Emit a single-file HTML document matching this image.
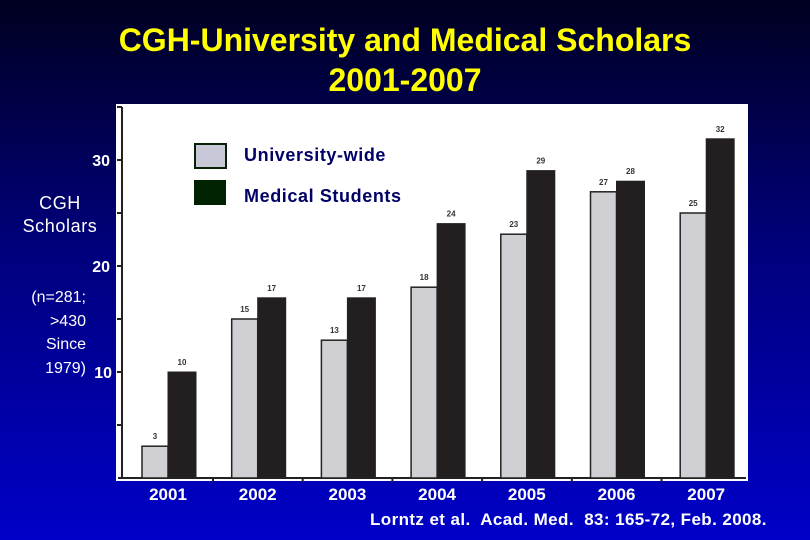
<!DOCTYPE html>
<html><head><meta charset="utf-8"><style>
html,body{margin:0;padding:0;width:810px;height:540px;overflow:hidden}
body{background:linear-gradient(#000020 0%,#00007a 45%,#0000c8 100%);font-family:"Liberation Sans",sans-serif;position:relative}
.t{position:absolute;font-weight:bold}
</style></head><body>
<div class="t" style="left:0;width:810px;top:20px;text-align:center;color:#ffff00;font-size:32px;line-height:40px">CGH-University and Medical Scholars<br>2001-2007</div>
<div class="t" style="left:8px;top:192px;width:104px;text-align:center;color:#fff;font-size:18px;letter-spacing:0.6px;font-weight:normal;line-height:23px">CGH<br>Scholars</div>
<div class="t" style="left:20px;top:286px;width:66px;text-align:right;color:#fff;font-size:16px;font-weight:normal;line-height:23.5px">(n=281;<br>&gt;430<br>Since<br>1979)</div>
<div class="t" style="left:370px;top:510px;color:#fff;font-size:17px;letter-spacing:0.4px;white-space:nowrap">Lorntz et al.&nbsp; Acad. Med.&nbsp; 83: 165-72, Feb. 2008.</div>
<svg id="c" width="810" height="540" style="position:absolute;left:0;top:0"></svg>
<script>
const years=["2001","2002","2003","2004","2005","2006","2007"];
const university=[3,15,13,18,23,27,25];
const medical=[10,17,17,24,29,28,32];
const yTicks=[10,20,30];
const NS="http://www.w3.org/2000/svg";
const svg=document.getElementById('c');
function y(v){return 478-v*10.6;}
function x(i){return 168+i*89.7;}
function el(t,a,txt){const e=document.createElementNS(NS,t);for(const k in a)e.setAttribute(k,a[k]);if(txt!=null)e.textContent=txt;svg.appendChild(e);return e;}
let r=el('rect',{x:116,y:104,width:632,height:377,fill:'#fff'});


el('line',{x1:122,y1:107,x2:122,y2:478,stroke:'#222','stroke-width':2});
el('line',{x1:118,y1:478,x2:746,y2:478,stroke:'#222','stroke-width':2});
for(let v=5;v<=35;v+=5){el('line',{x1:117,y1:y(v),x2:122,y2:y(v),stroke:'#222','stroke-width':2});}
for(let i=0;i<years.length-1;i++){el('line',{x1:x(i)+45,y1:478,x2:x(i)+45,y2:482,stroke:'#222','stroke-width':2});}
yTicks.forEach(v=>{const t=el('text',{x:v===10?112:110,y:y(v)+6,fill:'#fff','font-size':16,'text-anchor':'end','font-weight':'bold'},String(v));

});
years.forEach((yr,i)=>{
 const cx=x(i);
 const b1=el('rect',{x:cx-26,y:y(university[i]),width:26,height:478-y(university[i]),fill:'#cfcfd4',stroke:'#222','stroke-width':1.5});
 
 
 const b2=el('rect',{x:cx,y:y(medical[i]),width:28,height:478-y(medical[i]),fill:'#231f20',stroke:'#222','stroke-width':1});
 
 
 el('text',{x:cx-13,y:y(university[i])-7,'font-size':8,'font-weight':'bold','text-anchor':'middle',fill:'#333'},String(university[i]));
 el('text',{x:cx+14,y:y(medical[i])-7,'font-size':8,'font-weight':'bold','text-anchor':'middle',fill:'#333'},String(medical[i]));
 const yl=el('text',{x:cx,y:500,'font-size':17,'font-weight':'bold','text-anchor':'middle',fill:'#fff'},yr);
 
 
});
let l1=el('rect',{x:195,y:144,width:31,height:24,fill:'#c8c8d8',stroke:'#062006','stroke-width':2});


let l2=el('rect',{x:194,y:180,width:32,height:25,fill:'#002200'});


let lt1=el('text',{x:244,y:161,'font-size':18,'letter-spacing':0.6,'font-weight':'bold',fill:'#000066'},'University-wide');


let lt2=el('text',{x:244,y:202,'font-size':18,'letter-spacing':0.6,'font-weight':'bold',fill:'#000066'},'Medical Students');


</script>
</body></html>
